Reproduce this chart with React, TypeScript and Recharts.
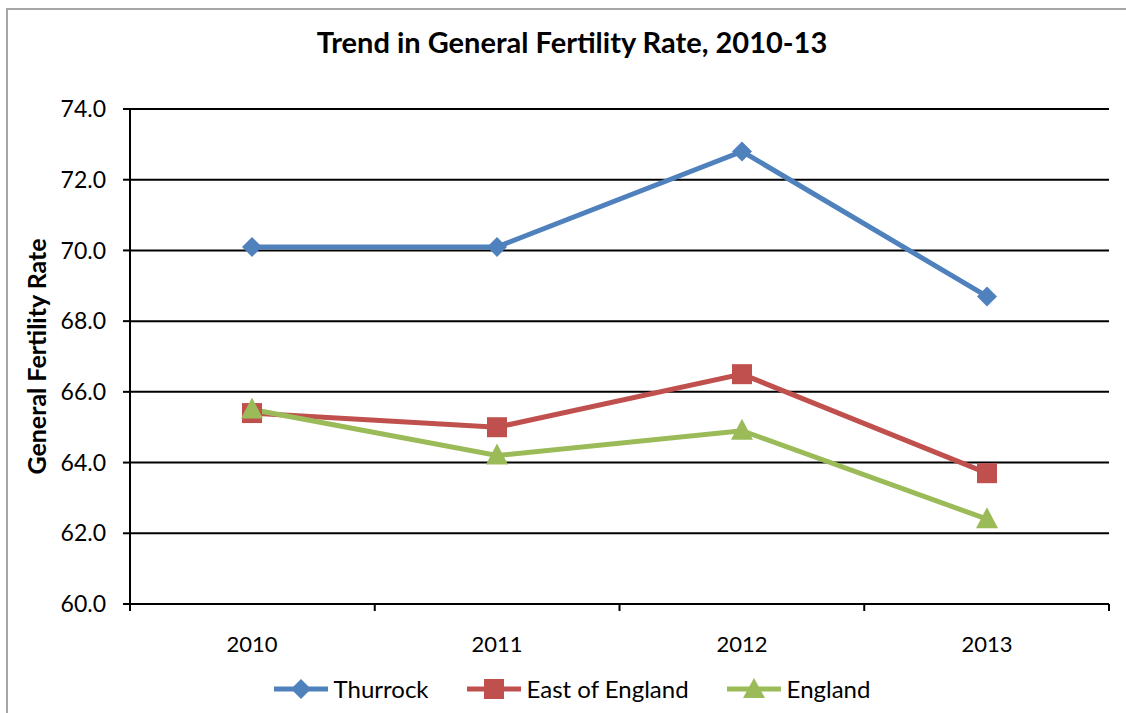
import { LineChart, Line, XAxis, YAxis, CartesianGrid, Legend, Label } from 'recharts';

// Trend in General Fertility Rate, 2010-13
const years = ['2010', '2011', '2012', '2013'];
const thurrock = [70.1, 70.1, 72.8, 68.7];
const eastOfEngland = [65.4, 65.0, 66.5, 63.7];
const england = [65.5, 64.2, 64.9, 62.4];
const yTicks = [60, 62, 64, 66, 68, 70, 72, 74];
const bandTicks = [0, 1, 2, 3, 4];

const BLUE = '#4F81BD';
const RED = '#C0504D';
const GREEN = '#9BBB59';
const FONT = 'Lato, "Open Sans", sans-serif';

// pos = category centre on a 0..4 scale, used only for the boundary tick axis
const data = years.map((year, i) => ({
  year,
  pos: i + 0.5,
  thurrock: thurrock[i],
  east: eastOfEngland[i],
  england: england[i],
}));

const Diamond = (props: any) => {
  const { cx, cy } = props;
  if (cx == null || cy == null) return null;
  return <path d={`M${cx},${cy - 10} L${cx + 10},${cy} L${cx},${cy + 10} L${cx - 10},${cy} Z`} fill={BLUE} />;
};

const Square = (props: any) => {
  const { cx, cy } = props;
  if (cx == null || cy == null) return null;
  return <rect x={cx - 10} y={cy - 10} width={20} height={20} fill={RED} />;
};

const Triangle = (props: any) => {
  const { cx, cy } = props;
  if (cx == null || cy == null) return null;
  return <path d={`M${cx},${cy - 12} L${cx + 11},${cy + 9} L${cx - 11},${cy + 9} Z`} fill={GREEN} />;
};

const legendItems = [
  { name: 'Thurrock', color: BLUE, shape: 'diamond' },
  { name: 'East of England', color: RED, shape: 'square' },
  { name: 'England', color: GREEN, shape: 'triangle' },
];

const renderLegend = () => (
  <div style={{ display: 'flex', justifyContent: 'center', alignItems: 'center', gap: 38, fontFamily: FONT, fontSize: 24, color: '#000' }}>
    {legendItems.map((item) => (
      <div key={item.name} style={{ display: 'flex', alignItems: 'center' }}>
        <svg width={54} height={24} style={{ marginRight: 6 }}>
          <line x1={0} y1={12} x2={54} y2={12} stroke={item.color} strokeWidth={5} />
          {item.shape === 'diamond' && <path d="M27,2 L37,12 L27,22 L17,12 Z" fill={item.color} />}
          {item.shape === 'square' && <rect x={17} y={2} width={20} height={20} fill={item.color} />}
          {item.shape === 'triangle' && <path d="M27,1 L38,21 L16,21 Z" fill={item.color} />}
        </svg>
        <span>{item.name}</span>
      </div>
    ))}
  </div>
);

export default function App() {
  return (
    <div style={{ position: 'absolute', left: 0, top: 0, width: 1126, height: 713, background: '#fff' }}>
      {/* outer frame, only top and left edges are visible in the crop */}
      <div style={{ position: 'absolute', left: 6, top: 8, width: 1200, height: 800, border: '2px solid #A6A6A6' }} />
      <div
        style={{
          position: 'absolute',
          left: 0,
          top: 24,
          width: 1144,
          textAlign: 'center',
          fontFamily: FONT,
          fontWeight: 'bold',
          fontSize: 29,
          color: '#000',
        }}
      >
        Trend in General Fertility Rate, 2010-13
      </div>
      <LineChart
        width={1126}
        height={713}
        data={data}
        margin={{ top: 109, right: 17, bottom: 61, left: 50 }}
        style={{ position: 'absolute', left: 0, top: 0 }}
      >
        <CartesianGrid vertical={false} stroke="#000" strokeWidth={2} xAxisId="cat" />
        {/* boundary ticks between categories, like the original axis */}
        <XAxis
          xAxisId="band"
          dataKey="pos"
          type="number"
          domain={[0, 4]}
          allowDataOverflow
          ticks={bandTicks}
          interval={0}
          height={8}
          tickFormatter={() => ''}
          tick={{ fontSize: 1 }}
          axisLine={{ stroke: '#000', strokeWidth: 2 }}
          tickLine={{ stroke: '#000', strokeWidth: 2 }}
          tickSize={7}
        />
        <XAxis
          xAxisId="cat"
          dataKey="year"
          height={40}
          padding={{ left: 122, right: 122 }}
          axisLine={false}
          tickLine={false}
          tickSize={0}
          tickMargin={24}
          tick={{ fill: '#000', fontSize: 22, fontFamily: FONT }}
        />
        <YAxis
          width={80}
          domain={[60, 74]}
          ticks={yTicks}
          interval={0}
          tickFormatter={(v: number) => v.toFixed(1)}
          axisLine={{ stroke: '#000', strokeWidth: 2 }}
          tickLine={{ stroke: '#000', strokeWidth: 2 }}
          tickSize={7}
          tickMargin={17}
          tick={{ fill: '#000', fontSize: 23, fontFamily: FONT }}
        >
          <Label
            value="General Fertility Rate"
            angle={-90}
            position="insideLeft"
            offset={-13}
            style={{ textAnchor: 'middle', fontFamily: FONT, fontWeight: 'bold', fontSize: 25, fill: '#000' }}
          />
        </YAxis>
        <Legend
          verticalAlign="middle"
          align="center"
          content={renderLegend}
          wrapperStyle={{ top: 674, left: 0, width: 1144 }}
        />
        <Line xAxisId="cat" type="linear" dataKey="thurrock" name="Thurrock" stroke={BLUE} strokeWidth={5} dot={<Diamond />} activeDot={false} isAnimationActive={false} />
        <Line xAxisId="cat" type="linear" dataKey="east" name="East of England" stroke={RED} strokeWidth={5} dot={<Square />} activeDot={false} isAnimationActive={false} />
        <Line xAxisId="cat" type="linear" dataKey="england" name="England" stroke={GREEN} strokeWidth={5} dot={<Triangle />} activeDot={false} isAnimationActive={false} />
      </LineChart>
    </div>
  );
}
